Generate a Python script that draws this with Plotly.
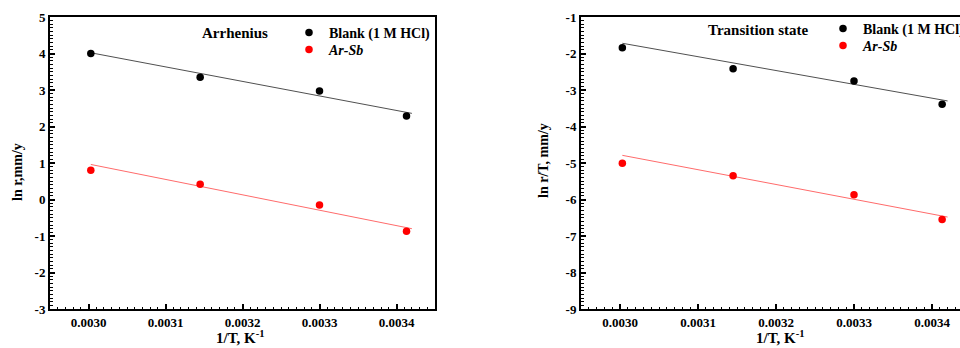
import plotly.graph_objects as go

# ---- data ----
inv_T = [0.003003, 0.003145, 0.003300, 0.003413]

arr_blank = [4.00, 3.35, 2.97, 2.29]
arr_arsb = [0.80, 0.42, -0.15, -0.87]

ts_blank = [-1.84, -2.42, -2.75, -3.39]
ts_arsb = [-5.01, -5.35, -5.87, -6.55]

# linear-fit lines (end points)
fit_x = [0.003003, 0.003420]
arr_blank_fit = [4.02, 2.36]
arr_arsb_fit = [0.96, -0.80]
ts_blank_fit = [-1.72, -3.30]
ts_arsb_fit = [-4.79, -6.48]

x_ticks = [0.0030, 0.0031, 0.0032, 0.0033, 0.0034]
x_ticklabels = ["0.0030", "0.0031", "0.0032", "0.0033", "0.0034"]
arr_yticks = [5, 4, 3, 2, 1, 0, -1, -2, -3]
arr_yticklabels = ["5", "4", "3", "2", "1", "0", "-1", "-2", "-3"]
ts_yticks = [-1, -2, -3, -4, -5, -6, -7, -8, -9]
ts_yticklabels = ["-1", "-2", "-3", "-4", "-5", "-6", "-7", "-8", "-9"]

FONT = "Times New Roman, Liberation Serif, serif"
fig = go.Figure()

MS = 7.5
# left panel
fig.add_trace(go.Scatter(x=fit_x, y=arr_blank_fit, mode="lines", line=dict(color="#505050", width=1),
                         showlegend=False, xaxis="x", yaxis="y"))
fig.add_trace(go.Scatter(x=fit_x, y=arr_arsb_fit, mode="lines", line=dict(color="#ff6b6b", width=1),
                         showlegend=False, xaxis="x", yaxis="y"))
fig.add_trace(go.Scatter(x=inv_T, y=arr_blank, mode="markers", marker=dict(color="black", size=MS),
                         name="Blank (1 M HCl)", legend="legend", xaxis="x", yaxis="y"))
fig.add_trace(go.Scatter(x=inv_T, y=arr_arsb, mode="markers", marker=dict(color="#ff0000", size=MS),
                         name="<i>Ar-Sb</i>", legend="legend2", xaxis="x", yaxis="y"))

# right panel
fig.add_trace(go.Scatter(x=fit_x, y=ts_blank_fit, mode="lines", line=dict(color="#505050", width=1),
                         showlegend=False, xaxis="x2", yaxis="y2"))
fig.add_trace(go.Scatter(x=fit_x, y=ts_arsb_fit, mode="lines", line=dict(color="#ff6b6b", width=1),
                         showlegend=False, xaxis="x2", yaxis="y2"))
fig.add_trace(go.Scatter(x=inv_T, y=ts_blank, mode="markers", marker=dict(color="black", size=MS),
                         name="Blank (1 M HCl)", legend="legend3", xaxis="x2", yaxis="y2"))
fig.add_trace(go.Scatter(x=inv_T, y=ts_arsb, mode="markers", marker=dict(color="#ff0000", size=MS),
                         name="<i>Ar-Sb</i>", legend="legend4", xaxis="x2", yaxis="y2"))

tickfont = dict(family=FONT, size=13, color="black", weight="bold")

def xax(domain, rng, anchor):
    return dict(domain=domain, range=rng, anchor=anchor, tickmode="array", tickvals=x_ticks,
                ticktext=x_ticklabels, ticks="inside", ticklen=5, tickwidth=1.5, tickcolor="black",
                showline=True, linewidth=2, linecolor="black", mirror=True, showgrid=False,
                zeroline=False, tickfont=tickfont, automargin=False,
                minor=dict(tickmode="linear", tick0=0.0030, dtick=0.00001, ticks="inside",
                           ticklen=2.5, tickwidth=1.2, tickcolor="black", showgrid=False))

def yax(domain, rng, anchor, tv, tt, mirror):
    return dict(domain=domain, range=rng, anchor=anchor, tickmode="array", tickvals=tv, ticktext=tt,
                ticks="inside", ticklen=5, tickwidth=1.5, tickcolor="black",
                showline=True, linewidth=2, linecolor="black", mirror=mirror, showgrid=False,
                zeroline=False, tickfont=tickfont, automargin=False,
                minor=dict(tickmode="linear", tick0=0, dtick=0.1, ticks="inside",
                           ticklen=2.5, tickwidth=1.2, tickcolor="black", showgrid=False))

def leg(xpx, ypx):
    return dict(x=xpx / 960, y=1 - ypx / 348, xanchor="left", yanchor="middle",
                bgcolor="rgba(0,0,0,0)", borderwidth=0,
                font=dict(family=FONT, size=14, color="black", weight="bold"), itemwidth=30)

def label(text, xpx, ypx, size, angle=0, yanchor="middle"):
    return dict(text=text, x=xpx / 960, y=1 - ypx / 348, xref="paper", yref="paper",
                xanchor="center", yanchor=yanchor, textangle=angle, showarrow=False,
                font=dict(family=FONT, size=size, color="black", weight="bold"))

ydom = [1 - 309 / 348, 1 - 17 / 348]
fig.update_layout(
    width=960, height=348, margin=dict(l=0, r=0, t=0, b=0, autoexpand=False),
    plot_bgcolor="white", paper_bgcolor="white",
    xaxis=xax([50 / 960, 435 / 960], [0.00295, 0.00345], "y"),
    yaxis=yax(ydom, [-3, 5], "x", arr_yticks, arr_yticklabels, True),
    xaxis2=xax([581 / 960, 1.0], [0.00295, 0.0034359], "y2"),
    yaxis2=yax(ydom, [-9, -1], "x2", ts_yticks, ts_yticklabels, False),
    legend=leg(289, 33),
    legend2=leg(289, 50),
    legend3=leg(823, 29),
    legend4=leg(823, 46),
    annotations=[
        label("Arrhenius", 235, 33, 15),
        label("Transition state", 758, 30, 15),
        label("1/T, K<sup>-1</sup>", 240, 348, 15, yanchor="bottom"),
        label("1/T, K<sup>-1</sup>", 780, 348, 15, yanchor="bottom"),
        label("ln r,mm/y", 18, 172, 14, -90),
        label("ln r/T, mm/y", 543, 161, 14, -90),
    ],
)

fig.write_html("out.html")
